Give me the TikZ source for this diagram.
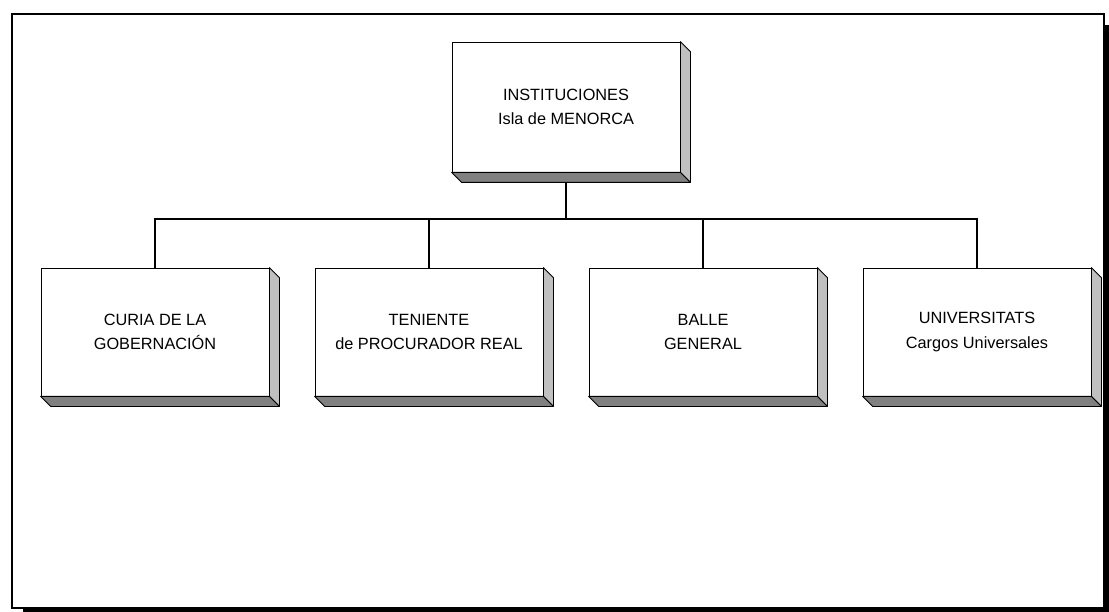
\documentclass[tikz,border=0pt]{standalone}
\usepackage{fontspec}
\setmainfont{Liberation Sans}
\usetikzlibrary{calc}
\definecolor{sidegray}{HTML}{C0C0C0}
\definecolor{botgray}{HTML}{808080}
\tikzset{
  orgbox/.style={draw=black, line width=0.8pt, fill=white, minimum width=228pt,
    minimum height=128pt, inner sep=0pt, align=center,
    font=\fontsize{16.3}{24.5}\selectfont},
  sideface/.style={fill=sidegray, draw=black, line width=0.8pt, line join=round},
  bottomface/.style={fill=botgray, draw=black, line width=0.8pt, line join=round},
  link/.style={line width=1.2pt},
  framebox/.style={draw=black, fill=white, line width=2pt},
  frameshadow/.style={fill=black}
}
\newcommand\orgdepth[1]{%
  \draw[sideface] (#1.north east) -- ++(10,10) -- ($(#1.south east)+(10,10)$) -- (#1.south east) -- cycle;
  \draw[bottomface] (#1.south west) -- (#1.south east) -- ++(10,10) -- ($(#1.south west)+(10,10)$) -- cycle;
}
\begin{document}
\begin{tikzpicture}[x=1pt,y=-1pt]
  \useasboundingbox (0,0) rectangle (1109,612);
  % outer frame with shadow
  \fill[frameshadow] (23,25) rectangle (1109,612);
  \draw[framebox] (12,14) rectangle (1104,608);
  % boxes
  \node[orgbox, minimum height=130pt] (top) at (566,107) {INSTITUCIONES\\Isla de MENORCA};
  \orgdepth{top}
  \node[orgbox] (b1) at (155,332) {CURIA DE LA\\GOBERNACIÓN};
  \node[orgbox] (b2) at (429,332) {TENIENTE\\de PROCURADOR REAL};
  \node[orgbox] (b3) at (703,332) {BALLE\\GENERAL};
  \node[orgbox] (b4) at (977,332) {UNIVERSITATS\\Cargos Universales};
  \orgdepth{b1}
  \orgdepth{b2}
  \orgdepth{b3}
  \orgdepth{b4}
  % connectors
  \coordinate (bus) at (566,219);
  \coordinate (topfoot) at ($(top.south)+(0,10)$);
  \draw[link] (topfoot) -- (bus);
  \draw[link] (b1.north) |- (bus);
  \draw[link] (b4.north) |- (bus);
  \draw[link] (b2.north) -- (b2.north |- bus);
  \draw[link] (b3.north) -- (b3.north |- bus);
\end{tikzpicture}
\end{document}
